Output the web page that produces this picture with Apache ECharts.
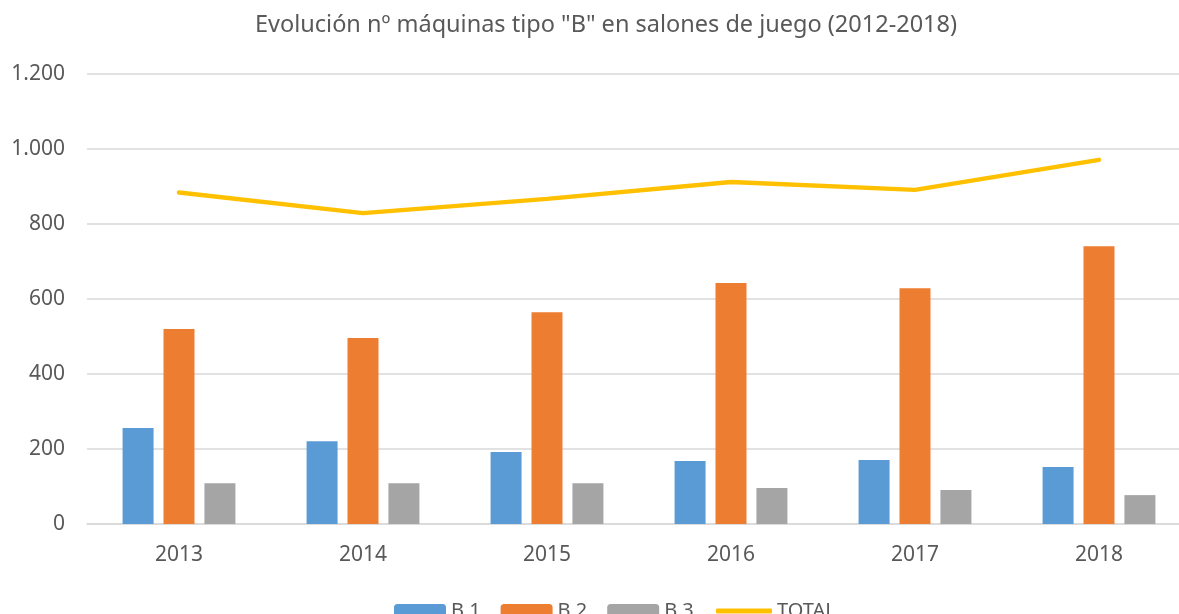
<!DOCTYPE html>
<html>
<head>
<meta charset="utf-8">
<script src="https://cdn.jsdelivr.net/npm/echarts@6/dist/echarts.min.js"></script>
<style>html,body{margin:0;padding:0;background:#fff}#c{width:1179px;height:614px}</style>
</head>
<body>
<div id="c"></div>
<script>
const categories = ['2013', '2014', '2015', '2016', '2017', '2018'];
const b1 = [256, 221, 192, 168, 171, 152];
const b2 = [520, 496, 565, 643, 629, 741];
const b3 = [109, 109, 109, 96, 91, 77];
const total = [884, 829, 867, 912, 891, 971];
const yTicks = [0, 200, 400, 600, 800, 1000, 1200];
const titleText = 'Evolución nº máquinas tipo "B" en salones de juego (2012-2018)';

const font = 'Noto Sans';
const grey = '#595959';
const chart = echarts.init(document.getElementById('c'));
chart.setOption({
  animation: false,
  title: {
    text: titleText,
    left: 250, top: 8,
    textStyle: { fontFamily: font, fontSize: 23.5, fontWeight: 'normal', color: grey }
  },
  legend: [
    {
      left: 389, top: 596,
      itemWidth: 52, itemHeight: 14, itemGap: 20,
      textStyle: { fontFamily: font, fontSize: 20, color: grey },
      data: ['B.1', 'B.2', 'B.3']
    },
    {
      left: 711, top: 596,
      itemWidth: 56, itemHeight: 5,
      textStyle: { fontFamily: font, fontSize: 20, color: grey },
      data: [{ name: 'TOTAL', icon: 'roundRect', itemStyle: { color: '#FFC000' } }]
    }
  ],
  grid: { left: 87, width: 1104, top: 74, bottom: 90, containLabel: false, outerBoundsMode: 'none' },
  xAxis: {
    type: 'category',
    data: categories,
    axisLine: { lineStyle: { color: '#d9d9d9', width: 1.5 } },
    axisTick: { show: false },
    axisLabel: { margin: 21, fontFamily: font, fontSize: 21, color: grey }
  },
  yAxis: {
    type: 'value',
    min: yTicks[0], max: yTicks[yTicks.length - 1], interval: 200,
    axisLine: { show: false },
    axisTick: { show: false },
    splitLine: { lineStyle: { color: '#d9d9d9', width: 1.5 } },
    axisLabel: {
      margin: 22, fontFamily: font, fontSize: 21, color: grey,
      formatter: v => String(v).replace(/\B(?=(\d{3})+(?!\d))/g, '.')
    }
  },
  series: [
    { name: 'B.1', type: 'bar', data: b1, barWidth: 31, barGap: '32%', itemStyle: { color: '#5B9BD5' } },
    { name: 'B.2', type: 'bar', data: b2, barWidth: 31, barGap: '32%', itemStyle: { color: '#ED7D31' } },
    { name: 'B.3', type: 'bar', data: b3, barWidth: 31, barGap: '32%', itemStyle: { color: '#A5A5A5' } },
    { name: 'TOTAL', type: 'line', data: total, symbol: 'none', lineStyle: { color: '#FFC000', width: 4.5, cap: 'round' }, itemStyle: { color: '#FFC000' } }
  ]
});
</script>
</body>
</html>
